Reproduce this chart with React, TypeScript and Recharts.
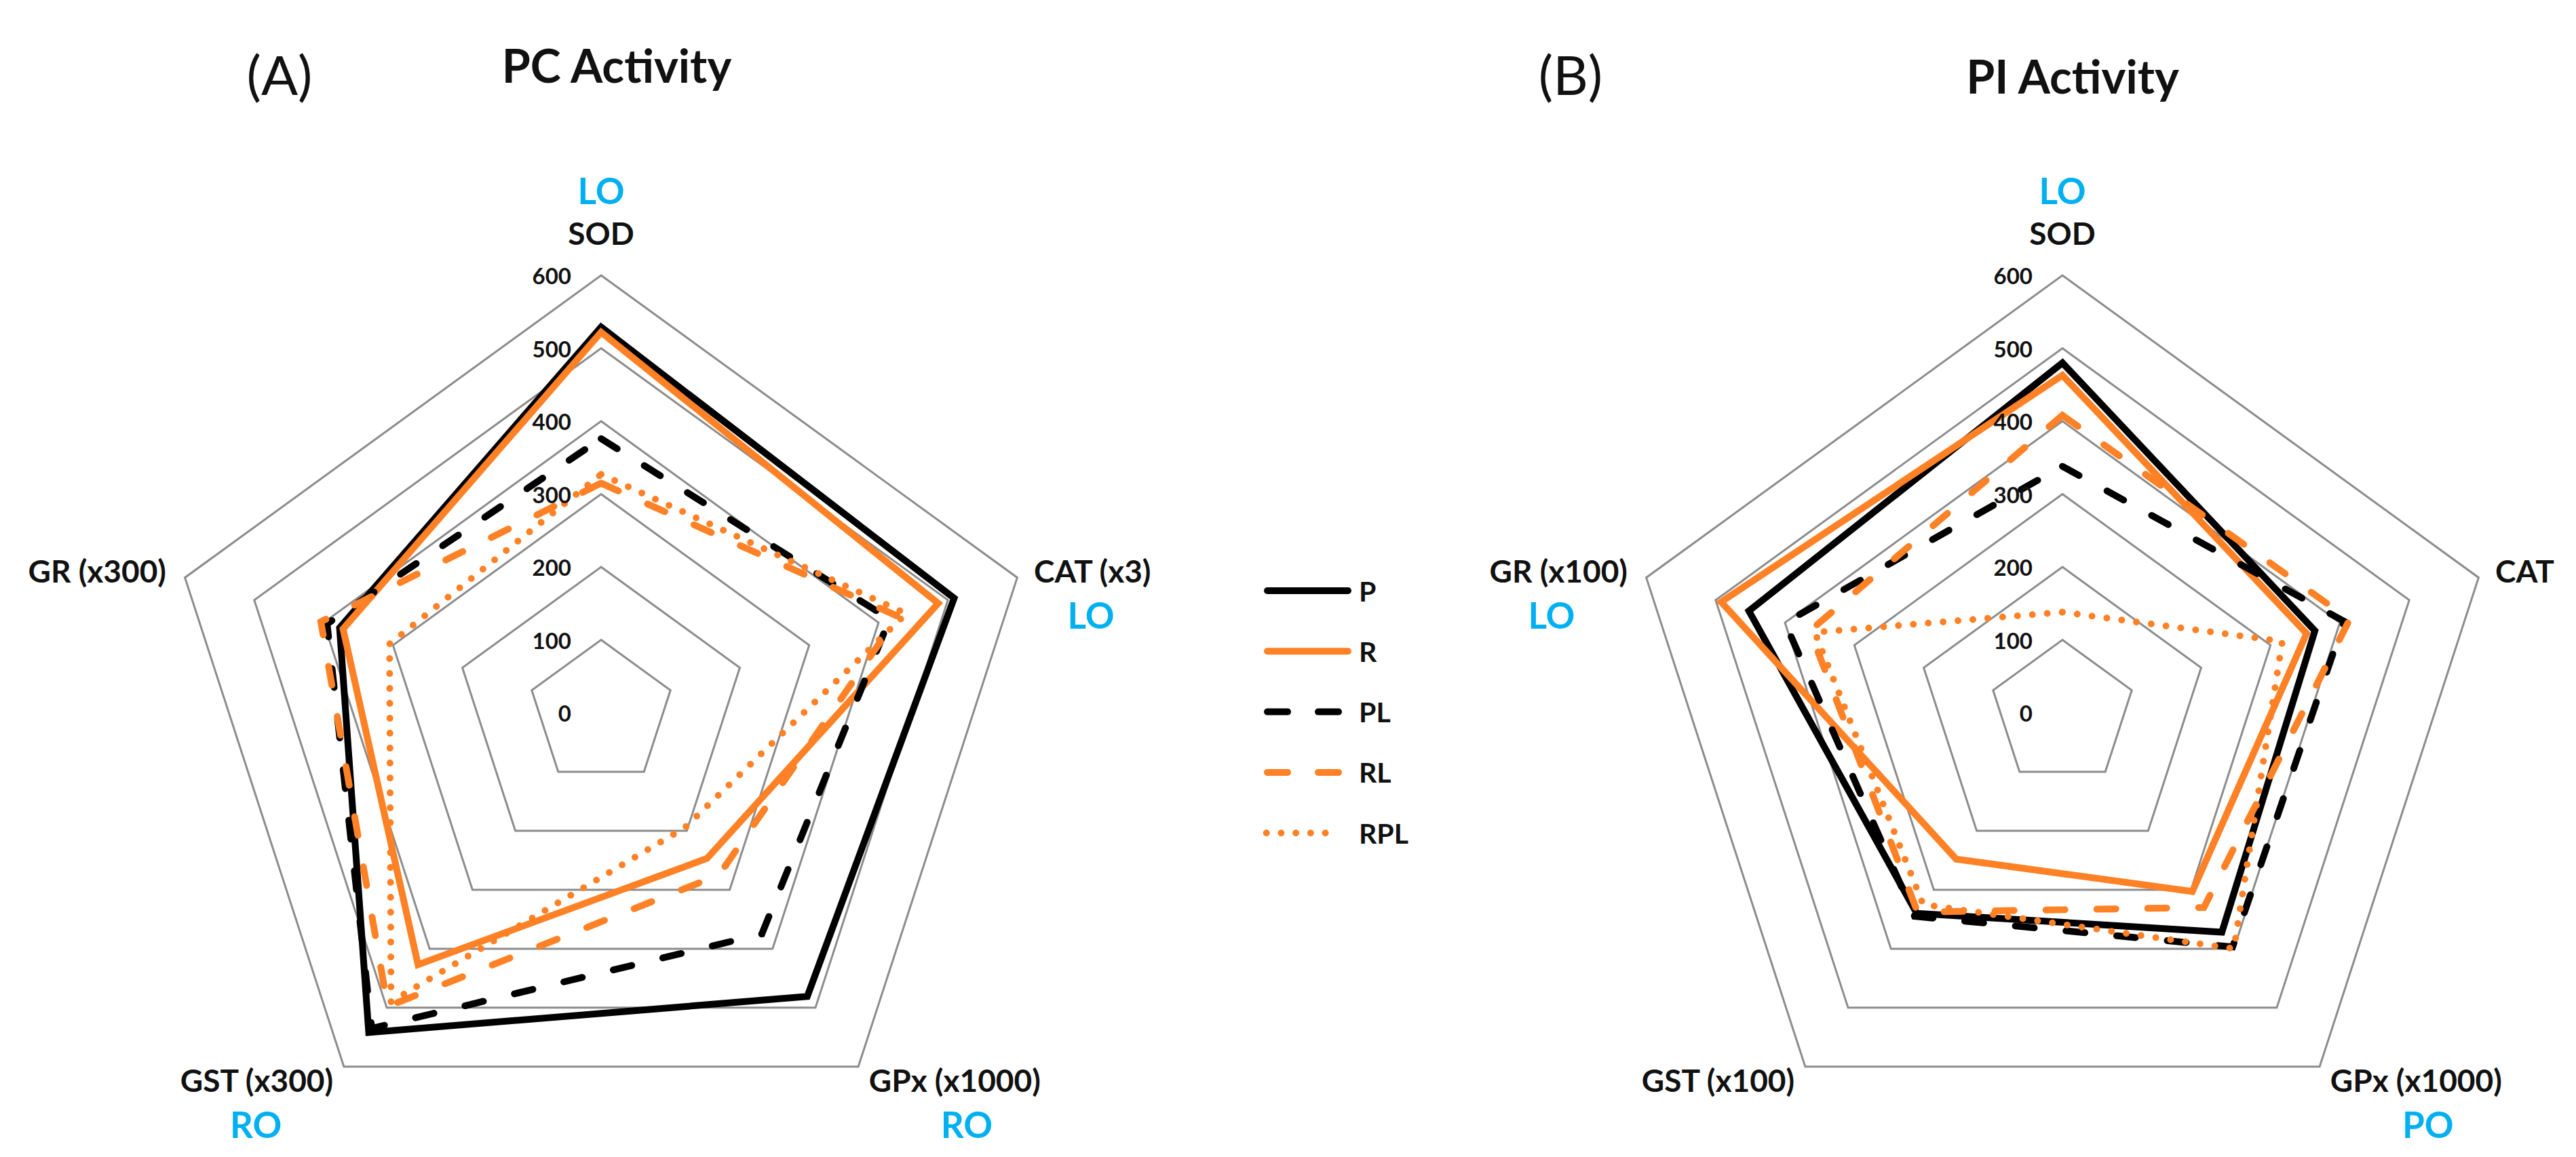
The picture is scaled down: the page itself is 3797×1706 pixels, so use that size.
import React from 'react';
import {
  RadarChart,
  Radar,
  PolarGrid,
  PolarAngleAxis,
  PolarRadiusAxis,
  Legend,
} from 'recharts';

// ---- data ----
const seriesNames = ['P', 'R', 'PL', 'RL', 'RPL'];

const pcAxes = ['SOD', 'CAT (x3)', 'GPx (x1000)', 'GST (x300)', 'GR (x300)'];
const pcTags = ['LO', 'LO', 'RO', 'RO', ''];
const pcP = [529, 509, 481, 542, 377];
const pcR = [522, 486, 247, 427, 372];
const pcPL = [376, 416, 375, 535, 395];
const pcRL = [315, 428, 275, 498, 404];
const pcRPL = [327, 440, 195, 490, 305];

const piAxes = ['SOD', 'CAT', 'GPx (x1000)', 'GST (x100)', 'GR (x100)'];
const piTags = ['LO', '', 'PO', '', 'LO'];
const piP = [480, 364, 372, 340, 452];
const piR = [463, 352, 303, 248, 492];
const piPL = [338, 406, 397, 345, 400];
const piRL = [408, 414, 330, 338, 364];
const piRPL = [138, 317, 400, 325, 357];

const radiusDomain = [0, 600];

// ---- styling ----
const BLACK = '#000000';
const ORANGE = '#FF8126';
const BLUE = '#00B0F0';
const GRID = '#8c8c8c';
const FONT = "Lato, 'Open Sans', sans-serif";

const seriesStyle: Record<string, { stroke: string; dash?: string; legendDash?: string }> = {
  P: { stroke: BLACK },
  R: { stroke: ORANGE },
  PL: { stroke: BLACK, dash: '28 47', legendDash: '30 45' },
  RL: { stroke: ORANGE, dash: '28 47', legendDash: '30 45' },
  RPL: { stroke: ORANGE, dash: '0 22', legendDash: '0 21.7' },
};

// label placement relative to the angle-axis tick point
const labelPos = [
  { anchor: 'middle', dx: 0, dy: -55 },
  { anchor: 'start', dx: 17, dy: -8 },
  { anchor: 'start', dx: 11, dy: 13 },
  { anchor: 'end', dx: -11, dy: 13 },
  { anchor: 'end', dx: -20, dy: -8 },
];
const tagPos = [
  { dx: 0, dy: -118 },
  { dx: 101, dy: 57 },
  { dx: 155, dy: 78 },
  { dx: -125, dy: 78 },
  { dx: -132, dy: 57 },
];

function buildRows(axes: string[], series: number[][]) {
  return axes.map((axis, i) => {
    const row: Record<string, string | number> = { axis };
    seriesNames.forEach((name, s) => {
      row[name] = series[s][i];
    });
    return row;
  });
}

const pcRows = buildRows(pcAxes, [pcP, pcR, pcPL, pcRL, pcRPL]);
const piRows = buildRows(piAxes, [piP, piR, piPL, piRL, piRPL]);

const makeAngleTick = (tags: string[]) => (props: any) => {
  const { x, y, payload, index } = props;
  const lp = labelPos[index];
  const tp = tagPos[index];
  return (
    <g>
      <text
        x={x + lp.dx}
        y={y + lp.dy}
        textAnchor={lp.anchor}
        dominantBaseline="central"
        fontFamily={FONT}
        fontWeight={700}
        fontSize={46}
        fill="#111"
      >
        {payload.value}
      </text>
      {tags[index] ? (
        <text
          x={x + tp.dx}
          y={y + tp.dy}
          textAnchor="middle"
          dominantBaseline="central"
          fontFamily={FONT}
          fontWeight={700}
          fontSize={53}
          fill={BLUE}
        >
          {tags[index]}
        </text>
      ) : null}
    </g>
  );
};

const radiusTick = (props: any) => {
  const { x, y, payload } = props;
  return (
    <text
      x={x - 44}
      y={y}
      textAnchor="end"
      dominantBaseline="central"
      fontFamily={FONT}
      fontWeight={700}
      fontSize={33}
      fill="#111"
    >
      {payload.value}
    </text>
  );
};

const LegendBox = () => (
  <svg width={280} height={420}>
    {seriesNames.map((name, i) => {
      const st = seriesStyle[name];
      const y = 20 + i * 89.3;
      const dashed = !!st.legendDash;
      const dotted = name === 'RPL';
      const x1 = dotted ? 9.7 : dashed ? 11 : 11;
      const x2 = dotted ? 118 : dashed ? 116 : 130;
      return (
        <g key={name}>
          <line
            x1={x1}
            x2={x2}
            y1={y}
            y2={y}
            stroke={st.stroke}
            strokeWidth={10}
            strokeLinecap="round"
            strokeDasharray={st.legendDash}
          />
          <text
            x={146}
            y={y}
            dominantBaseline="central"
            fontFamily={FONT}
            fontWeight={700}
            fontSize={41}
            fill="#111"
          >
            {name}
          </text>
        </g>
      );
    })}
  </svg>
);

type PanelProps = {
  rows: Record<string, string | number>[];
  tags: string[];
  left: number;
  width: number;
  cx: number;
  withLegend?: boolean;
};

function Panel({ rows, tags, left, width, cx, withLegend }: PanelProps) {
  return (
    <div style={{ position: 'absolute', left, top: 0 }}>
      <RadarChart
        width={width}
        height={1706}
        data={rows}
        cx={cx}
        cy={1051}
        outerRadius={645}
        margin={{ top: 0, right: 0, bottom: 0, left: 0 }}
      >
        <PolarGrid gridType="polygon" radialLines={false} stroke={GRID} strokeWidth={3} />
        <PolarAngleAxis dataKey="axis" axisLine={false} tickLine={false} tick={makeAngleTick(tags)} />
        <PolarRadiusAxis
          angle={90}
          domain={radiusDomain}
          tickCount={7}
          axisLine={false}
          tick={radiusTick}
        />
        {seriesNames.map((name) => {
          const st = seriesStyle[name];
          return (
            <Radar
              key={name}
              name={name}
              dataKey={name}
              stroke={st.stroke}
              strokeWidth={10}
              strokeDasharray={st.dash}
              strokeLinecap={st.dash ? 'round' : 'butt'}
              strokeLinejoin="miter"
              fill="none"
              fillOpacity={0}
              dot={false}
              isAnimationActive={false}
            />
          );
        })}
        {withLegend ? (
          <Legend
            layout="vertical"
            align="right"
            verticalAlign="middle"
            content={() => <LegendBox />}
            wrapperStyle={{ left: 1857, top: 851, width: 280, height: 420 }}
          />
        ) : null}
      </RadarChart>
    </div>
  );
}

const titleStyle = (x: number, y: number, size: number, weight: number): React.CSSProperties => ({
  position: 'absolute',
  left: x,
  top: y,
  transform: 'translate(-50%, -50%)',
  fontFamily: FONT,
  fontSize: size,
  fontWeight: weight,
  lineHeight: 1,
  whiteSpace: 'nowrap',
  color: '#111',
});

export default function App() {
  return (
    <div
      style={{
        position: 'absolute',
        left: 0,
        top: 0,
        width: 3797,
        height: 1706,
        background: '#fff',
        overflow: 'hidden',
      }}
    >
      <Panel rows={pcRows} tags={pcTags} left={0} width={1960} cx={886} withLegend />
      <Panel rows={piRows} tags={piTags} left={1960} width={1837} cx={1080} />
      <div style={titleStyle(412, 109, 80, 400)}>(A)</div>
      <div style={titleStyle(909, 96, 68, 700)}>PC Activity</div>
      <div style={titleStyle(2315, 109, 80, 400)}>(B)</div>
      <div style={titleStyle(3055, 112, 68, 700)}>PI Activity</div>
    </div>
  );
}
